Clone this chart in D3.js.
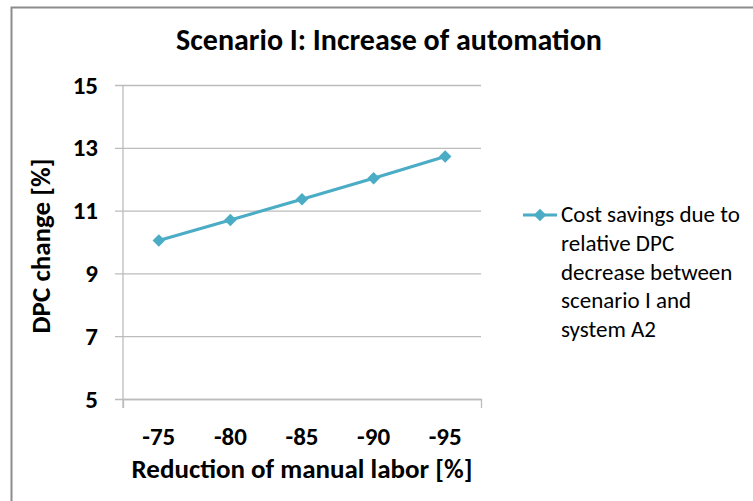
<!DOCTYPE html>
<html>
<head>
<meta charset="utf-8">
<script src="https://cdn.jsdelivr.net/npm/d3@7"></script>
<style>
  body { margin: 0; background: #fff; }
  svg { display: block; font-family: Carlito, Calibri, Lato, sans-serif; }
</style>
</head>
<body>
<div id="chart"></div>
<script>
// Data
const categories = ["-75", "-80", "-85", "-90", "-95"];
const dpcChange = [10.05, 10.7, 11.36, 12.03, 12.72];
const yTicks = [5, 7, 9, 11, 13, 15];
const seriesName = "Cost savings due to relative DPC decrease between scenario I and system A2";
const legendLines = ["Cost savings due to", "relative DPC", "decrease between", "scenario I and", "system A2"];

const width = 753;
const height = 501;
const margin = { top: 85, right: 272, bottom: 102, left: 123 };
const innerWidth = width - margin.left - margin.right;
const innerHeight = height - margin.top - margin.bottom;
const lineColour = "#4bacc6";
const gridColour = "#bcbcbc";
const fontStack = "Carlito, Calibri, Lato, sans-serif";

const svg = d3
  .select("#chart")
  .append("svg")
  .attr("width", width)
  .attr("height", height);

// Chart border (runs off the right and bottom)
svg
  .append("path")
  .attr("d", `M11.5,${height + 5} V7.5 H${width + 5}`)
  .attr("fill", "none")
  .attr("stroke", "#8c8c8c")
  .attr("stroke-width", 2);

// Title
svg
  .append("text")
  .attr("x", 389)
  .attr("y", 50)
  .attr("text-anchor", "middle")
  .style("font-size", "30px")
  .style("font-weight", "bold")
  .text("Scenario I: Increase of automation");

const xScale = d3.scaleBand().domain(categories).range([0, innerWidth]);
const yScale = d3.scaleLinear().domain([5, 15]).range([innerHeight, 0]);

const g = svg
  .append("g")
  .attr("transform", `translate(${margin.left}, ${margin.top})`);

// Gridlines + y axis
const yAxis = g
  .append("g")
  .attr("class", "y-axis")
  .call(
    d3.axisLeft(yScale)
      .tickValues(yTicks)
      .tickSize(-innerWidth)
      .tickPadding(25)
      .tickSizeOuter(0)
  );
yAxis.select(".domain").remove();
yAxis.selectAll(".tick line")
  .attr("x1", -8)
  .attr("stroke", gridColour)
  .attr("stroke-width", 1.3);
yAxis.selectAll(".tick text")
  .style("font-family", fontStack)
  .style("font-size", "25px")
  .style("font-weight", "bold")
  .attr("fill", "#000");

// Vertical axis line
g.append("line")
  .attr("x1", 0).attr("x2", 0)
  .attr("y1", 0).attr("y2", innerHeight + 9)
  .attr("stroke", gridColour)
  .attr("stroke-width", 1.3);

// X axis
const xAxis = g
  .append("g")
  .attr("class", "x-axis")
  .attr("transform", `translate(0, ${innerHeight})`)
  .call(d3.axisBottom(xScale).tickSize(0).tickPadding(28).tickSizeOuter(9));
xAxis.select(".domain")
  .attr("stroke", gridColour)
  .attr("stroke-width", 1.3);
xAxis.selectAll(".tick text")
  .style("font-family", fontStack)
  .style("font-size", "25px")
  .style("font-weight", "bold")
  .attr("fill", "#000");

// Axis titles
svg
  .append("text")
  .attr("transform", `translate(50, ${margin.top + innerHeight / 2 + 4}) rotate(-90)`)
  .attr("text-anchor", "middle")
  .style("font-size", "27px")
  .style("font-weight", "bold")
  .text("DPC change [%]");

svg
  .append("text")
  .attr("x", 302)
  .attr("y", 478)
  .attr("text-anchor", "middle")
  .style("font-size", "27px")
  .style("font-weight", "bold")
  .text("Reduction of manual labor [%]");

// Series line
const points = categories.map((c, i) => ({ cat: c, value: dpcChange[i] }));
const line = d3
  .line()
  .x((d) => xScale(d.cat) + xScale.bandwidth() / 2)
  .y((d) => yScale(d.value));

g.append("path")
  .datum(points)
  .attr("d", line)
  .attr("fill", "none")
  .attr("stroke", lineColour)
  .attr("stroke-width", 3.2);

const diamond = d3.symbol().type(d3.symbolDiamond2).size(100);
g.selectAll(".marker")
  .data(points)
  .join("path")
  .attr("class", "marker")
  .attr("transform", (d) => `translate(${xScale(d.cat) + xScale.bandwidth() / 2}, ${yScale(d.value)})`)
  .attr("d", diamond)
  .attr("fill", lineColour);

// Legend
const legend = svg
  .append("g")
  .attr("class", "legend")
  .attr("transform", "translate(523, 215)");
legend.append("line")
  .attr("x1", 0).attr("x2", 34)
  .attr("stroke", lineColour)
  .attr("stroke-width", 3.2);
legend.append("path")
  .attr("transform", "translate(17, 0)")
  .attr("d", diamond)
  .attr("fill", lineColour);
legend.append("title").text(seriesName);
legend
  .selectAll(".legend-line")
  .data(legendLines)
  .join("text")
  .attr("class", "legend-line")
  .attr("x", 38)
  .attr("y", (d, i) => i * 28.75 + 7)
  .style("font-size", "23px")
  .attr("fill", "#000")
  .text((d) => d);
</script>
</body>
</html>
